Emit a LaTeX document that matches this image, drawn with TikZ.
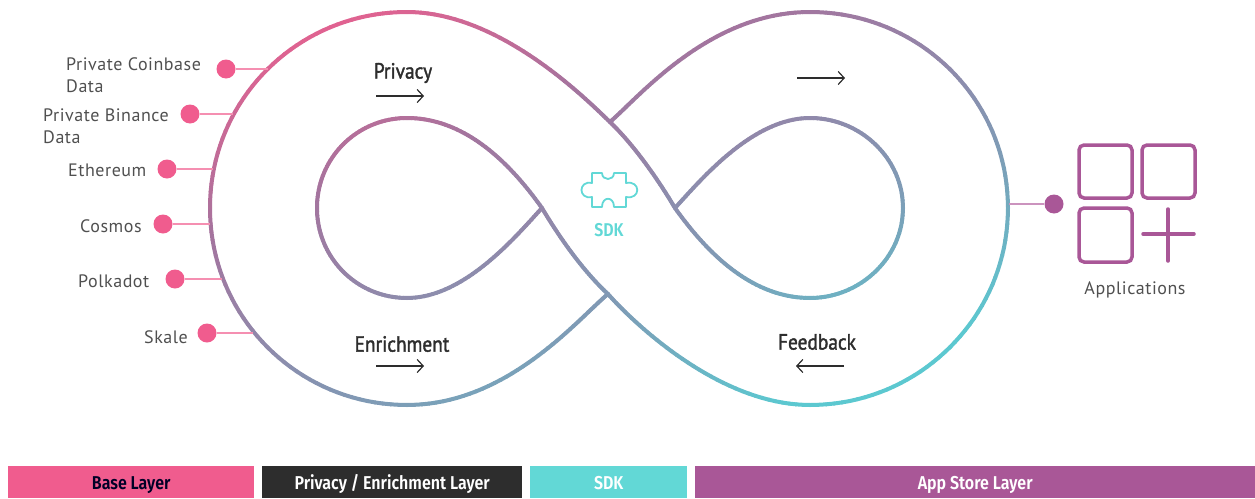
\documentclass[tikz,border=0pt]{standalone}
\usepackage{fontspec}
\setmainfont{Fira Sans}
\newfontfamily\labelfont[LetterSpace=3]{PT Sans}
\newfontfamily\headfont[FakeBold=1.6,FakeStretch=0.88]{PT Sans}
\newfontfamily\barfont[FakeStretch=0.86]{Fira Sans SemiBold}
\usetikzlibrary{arrows.meta}
\definecolor{gPink}{HTML}{E8608F}
\definecolor{gPurple}{HTML}{A4749E}
\definecolor{gBlue}{HTML}{7E9CB6}
\definecolor{gTeal}{HTML}{5CC8D0}
\definecolor{basePink}{HTML}{F05C8E}
\definecolor{stemPink}{HTML}{F58FB1}
\definecolor{appPurple}{HTML}{A95797}
\definecolor{stemPurple}{HTML}{CB93BE}
\definecolor{sdkTeal}{HTML}{62D8D6}
\definecolor{inkDark}{HTML}{2D2D2D}
\definecolor{inkText}{HTML}{505050}
\newcommand\gradbez[8]{%
  \foreach \i [evaluate=\i as \ss using (\i-1)/40, evaluate=\i as \se using \i/40] in {1,...,40}{%
    \pgfmathsetmacro\xa{(1-\ss)^3*#1+3*(1-\ss)^2*\ss*#3+3*(1-\ss)*\ss^2*#5+\ss^3*#7}%
    \pgfmathsetmacro\ya{(1-\ss)^3*#2+3*(1-\ss)^2*\ss*#4+3*(1-\ss)*\ss^2*#6+\ss^3*#8}%
    \pgfmathsetmacro\xb{(1-\se)^3*#1+3*(1-\se)^2*\se*#3+3*(1-\se)*\se^2*#5+\se^3*#7}%
    \pgfmathsetmacro\yb{(1-\se)^3*#2+3*(1-\se)^2*\se*#4+3*(1-\se)*\se^2*#6+\se^3*#8}%
    \pgfmathsetmacro\tv{0.38*\xa+0.92*\ya}%
    \ifdim\tv pt<300pt
      \pgfmathsetmacro\pc{max(0,(\tv-130)/170*100)}%
      \colorlet{segc}{gPurple!\pc!gPink}%
    \else\ifdim\tv pt<520pt
      \pgfmathsetmacro\pc{(\tv-300)/220*100}%
      \colorlet{segc}{gBlue!\pc!gPurple}%
    \else
      \pgfmathsetmacro\pc{min(100,(\tv-520)/150*100)}%
      \colorlet{segc}{gTeal!\pc!gBlue}%
    \fi\fi
    \draw[loopline,draw=segc] (\xa,\ya) -- (\xb,\yb);
  }%
}
\tikzset{
  loopline/.style={line width=4pt,line cap=round},
  srcdot/.style={circle,fill=basePink,inner sep=0pt,minimum size=19pt},
  appdot/.style={circle,fill=appPurple,inner sep=0pt,minimum size=19pt},
  stem/.style={draw=stemPink,line width=1.5pt},
  srclabel/.style={font=\labelfont\fontsize{18}{22}\selectfont,text=inkText,inner sep=0pt,align=left,anchor=west},
  headlabel/.style={font=\headfont\fontsize{22}{24}\selectfont,text=inkDark,inner sep=0pt},
  flow/.style={draw=inkDark,line width=1.2pt,-{Straight Barb[length=6pt,width=13pt]}},
  barbox/.style={inner sep=0pt,minimum height=32pt,text height=16pt,text depth=2pt,font=\barfont\fontsize{18.6}{20}\selectfont,text=white,anchor=west},
  appbox/.style={draw=appPurple,line width=3.5pt,rounded corners=5pt},
}
\begin{document}
\begin{tikzpicture}[x=1pt,y=-1pt]
\useasboundingbox (0,0) rectangle (1255,498);
% path A
\gradbez{610}{122}{640}{96}{710}{12}{810}{12}
\gradbez{810}{12}{919}{12}{1008}{99}{1008}{208}
\gradbez{1008}{208}{1008}{317}{919}{405}{810}{405}
\gradbez{810}{405}{717}{405}{630}{319}{608}{294}
\gradbez{608}{294}{582}{270}{558}{235}{542}{208}
\gradbez{542}{208}{512}{166}{467}{118}{407}{118}
\gradbez{407}{118}{357}{118}{317}{158}{317}{208}
\gradbez{317}{208}{317}{258}{357}{298}{407}{298}
\gradbez{407}{298}{465}{298}{517}{235}{542}{208}
% path B
\gradbez{608}{294}{577}{320}{507}{405}{407}{405}
\gradbez{407}{405}{298}{405}{210}{317}{210}{208}
\gradbez{210}{208}{210}{99}{298}{12}{407}{12}
\gradbez{407}{12}{500}{12}{587}{100}{610}{122}
\gradbez{610}{122}{635}{146}{659}{181}{675}{208}
\gradbez{675}{208}{705}{250}{750}{298}{810}{298}
\gradbez{810}{298}{860}{298}{903}{258}{903}{208}
\gradbez{903}{208}{903}{158}{860}{118}{810}{118}
\gradbez{810}{118}{752}{118}{700}{181}{675}{208}

% source dots and stems
\coordinate (cCoin) at (268,69);
\coordinate (cBin) at (233,114);
\coordinate (cEth) at (213,169);
\coordinate (cCos) at (210,224);
\coordinate (cPol) at (222,279);
\coordinate (cSka) at (253,333);
\coordinate (cApp) at (1009,204);
\node[srcdot] (dCoin) at (226,69) {};
\node[srcdot] (dBin) at (190,114) {};
\node[srcdot] (dEth) at (167,169) {};
\node[srcdot] (dCos) at (163,224) {};
\node[srcdot] (dPol) at (175,279) {};
\node[srcdot] (dSka) at (207,333) {};
\node[appdot] (dApp) at (1054,204) {};
\draw[stem] (dCoin) -- (cCoin);
\draw[stem] (dBin) -- (cBin);
\draw[stem] (dEth) -- (cEth);
\draw[stem] (dCos) -- (cCos);
\draw[stem] (dPol) -- (cPol);
\draw[stem] (dSka) -- (cSka);
\draw[stem,draw=stemPurple] (dApp) -- (cApp);

\node[srclabel] (tCoin) at (66,75) {Private Coinbase\\Data};
\node[srclabel] (tBin) at (43,126) {Private Binance\\Data};
\node[srclabel] (tEth) at (68,170) {Ethereum};
\node[srclabel] (tCos) at (80,226) {Cosmos};
\node[srclabel] (tPol) at (78,281) {Polkadot};
\node[srclabel] (tSka) at (144,337) {Skale};

% flow labels
\node[headlabel] (hPriv) at (403,73) {Privacy};
\node[headlabel] (hEnr) at (402,344) {Enrichment};
\node[headlabel] (hFeed) at (817,342) {Feedback};
\coordinate (a1s) at (376,96); \coordinate (a1e) at (424,96);
\coordinate (a2s) at (376,366); \coordinate (a2e) at (424,366);
\coordinate (a3s) at (844,366); \coordinate (a3e) at (796,366);
\coordinate (a4s) at (797,78); \coordinate (a4e) at (845,78);
\draw[flow] (a1s) -- (a1e);
\draw[flow] (a2s) -- (a2e);
\draw[flow] (a3s) -- (a3e);
\draw[flow] (a4s) -- (a4e);

% SDK puzzle piece
\draw[draw=sdkTeal,line width=1.8pt,line join=round]
  (592,173) -- (602,173) .. controls (602,181) and (614,181) .. (614,173)
  -- (626,173) -- (626,183) .. controls (641,180) and (641,200) .. (626,197)
  -- (626,207) -- (614,207) .. controls (614,196) and (602,196) .. (602,207)
  -- (592,207) -- (592,197) .. controls (578,200) and (578,180) .. (592,183) -- cycle;
\node[font=\barfont\fontsize{18.5}{20}\selectfont,text=sdkTeal,inner sep=0pt] (tSdk) at (609,230) {SDK};

% Applications icon
\draw[appbox] (1079,145) rectangle (1132,198);
\draw[appbox] (1142,145) rectangle (1195,198);
\draw[appbox] (1079,208) rectangle (1132,262);
\draw[draw=appPurple,line width=3.5pt,line cap=round] (1143,234) -- (1194,234);
\draw[draw=appPurple,line width=3.5pt,line cap=round] (1168,209) -- (1168,261);
\node[font=\labelfont\fontsize{18}{22}\selectfont,text=inkText,inner sep=0pt] (tApps) at (1135,290) {Applications};

% legend bars
\node[barbox,fill=basePink,minimum width=246pt,text=black!85!blue] (b1) at (8,482) {Base Layer};
\node[barbox,fill=inkDark,minimum width=260pt] (b2) at (262,482) {Privacy / Enrichment Layer};
\node[barbox,fill=sdkTeal,minimum width=157pt] (b3) at (530,482) {SDK};
\node[barbox,fill=appPurple,minimum width=560pt] (b4) at (695,482) {App Store Layer};
\end{tikzpicture}
\end{document}
